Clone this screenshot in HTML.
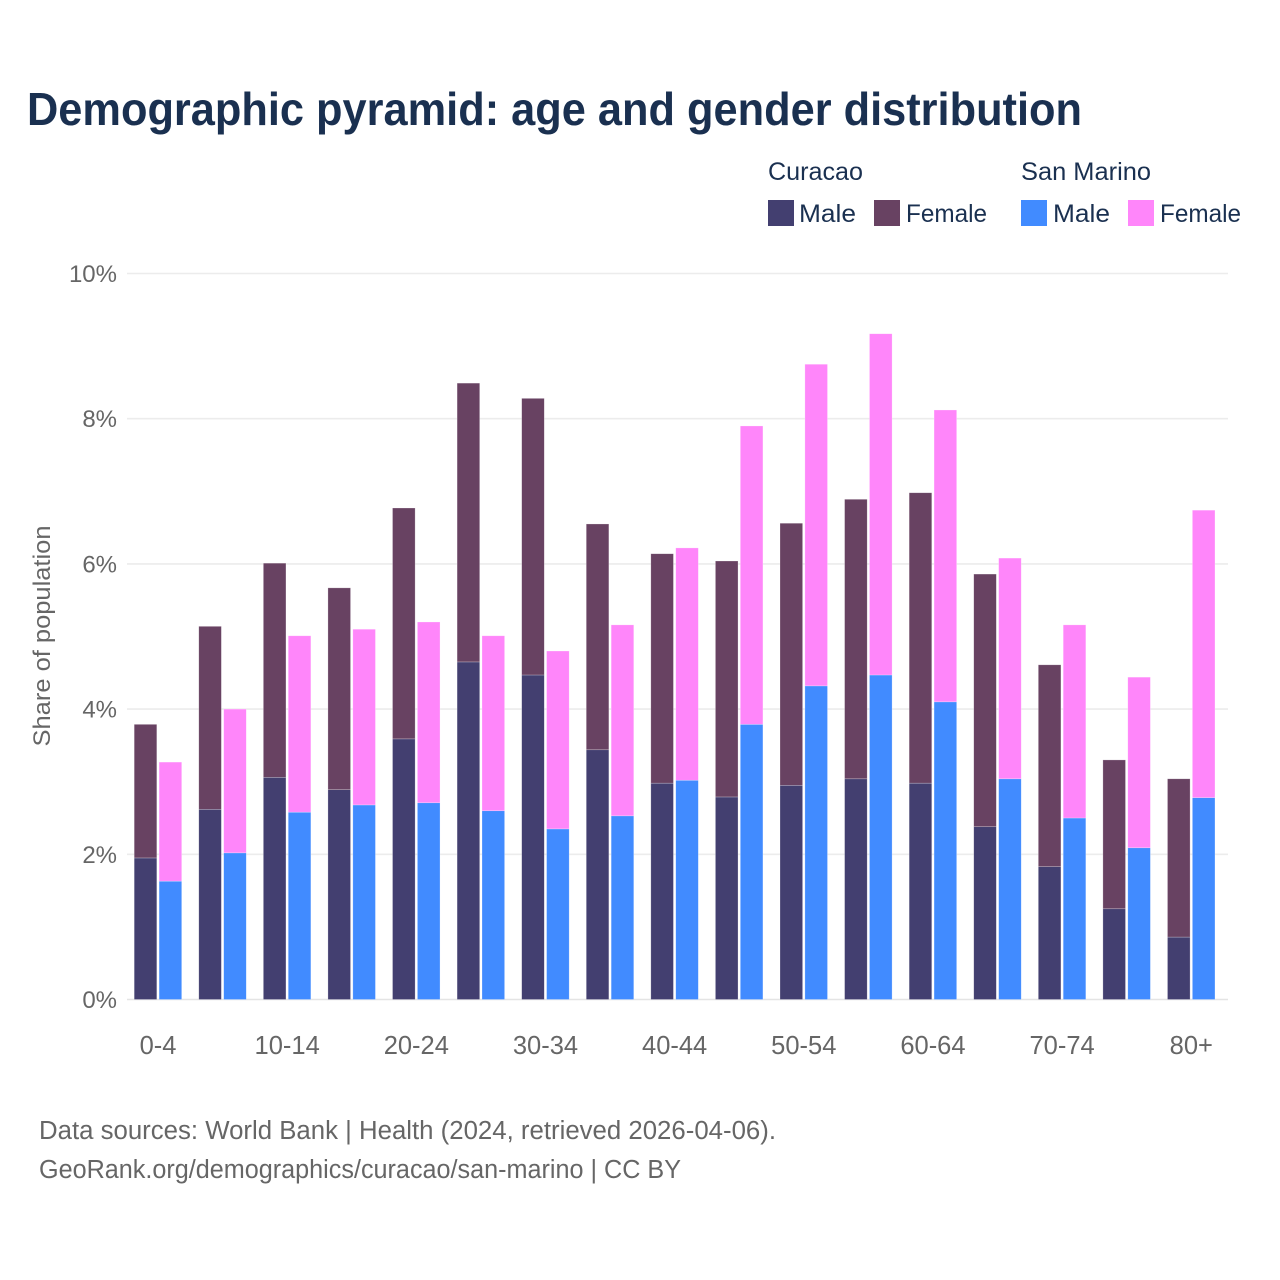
<!DOCTYPE html>
<html lang="en">
<head>
<meta charset="utf-8">
<title>Demographic pyramid</title>
<style>
html,body{margin:0;padding:0;background:#fff;width:1280px;height:1280px;overflow:hidden}
svg{display:block;font-family:"Liberation Sans",sans-serif}
</style>
</head>
<body>
<svg id="chart" width="1280" height="1280" viewBox="0 0 1280 1280" xmlns="http://www.w3.org/2000/svg">
  <rect width="1280" height="1280" fill="#fff"/>
  <text x="27" y="125" font-size="46" font-weight="700" fill="#1a3050" textLength="1055" lengthAdjust="spacingAndGlyphs">Demographic pyramid: age and gender distribution</text>

  <g font-size="25" fill="#1a3050">
    <text x="768" y="180" textLength="95" lengthAdjust="spacingAndGlyphs">Curacao</text>
    <text x="1021" y="180" textLength="130" lengthAdjust="spacingAndGlyphs">San Marino</text>
    <rect x="768" y="200" width="26" height="26" fill="#433f70"/>
    <text x="799" y="222" textLength="57" lengthAdjust="spacingAndGlyphs">Male</text>
    <rect x="874" y="200" width="26" height="26" fill="#684262"/>
    <text x="906" y="222" textLength="81" lengthAdjust="spacingAndGlyphs">Female</text>
    <rect x="1021" y="200" width="26" height="26" fill="#418bff"/>
    <text x="1053" y="222" textLength="57" lengthAdjust="spacingAndGlyphs">Male</text>
    <rect x="1128" y="200" width="26" height="26" fill="#ff86fa"/>
    <text x="1160" y="222" textLength="81" lengthAdjust="spacingAndGlyphs">Female</text>
  </g>

  <g id="grid"></g>
  <g id="bars"></g>
  <g id="xlabels"></g>

  <text transform="translate(50 636) rotate(-90)" text-anchor="middle" font-size="24" fill="#666" textLength="221" lengthAdjust="spacingAndGlyphs">Share of population</text>

  <text x="39" y="1139" font-size="25.5" fill="#666" textLength="737" lengthAdjust="spacingAndGlyphs">Data sources: World Bank | Health (2024, retrieved 2026-04-06).</text>
  <text x="39" y="1178" font-size="25.5" fill="#666" textLength="642" lengthAdjust="spacingAndGlyphs">GeoRank.org/demographics/curacao/san-marino | CC BY</text>
</svg>
<script>
const ageGroups = ["0-4","5-9","10-14","15-19","20-24","25-29","30-34","35-39","40-44","45-49","50-54","55-59","60-64","65-69","70-74","75-79","80+"];
const shownAgeLabels = ["0-4","10-14","20-24","30-34","40-44","50-54","60-64","70-74","80+"];
const curacaoMale = [1.95,2.62,3.06,2.89,3.59,4.65,4.47,3.44,2.98,2.79,2.95,3.04,2.98,2.38,1.83,1.25,0.86];
const curacaoFemale = [1.84,2.52,2.95,2.78,3.18,3.84,3.81,3.11,3.16,3.25,3.61,3.85,4.00,3.48,2.78,2.05,2.18];
const sanMarinoMale = [1.63,2.02,2.58,2.68,2.71,2.60,2.35,2.53,3.02,3.79,4.32,4.47,4.10,3.04,2.50,2.09,2.78];
const sanMarinoFemale = [1.64,1.98,2.43,2.42,2.49,2.41,2.45,2.63,3.20,4.11,4.43,4.70,4.02,3.04,2.66,2.35,3.96];
const yTicks = [0,2,4,6,8,10];

const NS = "http://www.w3.org/2000/svg";
const yScale = v => 999.5 - v * 72.6;
const xCenter = i => 158 + i * 64.58;
const BAR_W = 22.6;

function make(tag, attrs, parent) {
  const el = document.createElementNS(NS, tag);
  for (const k in attrs) el.setAttribute(k, attrs[k]);
  parent.appendChild(el);
  return el;
}

const grid = document.getElementById("grid");
yTicks.forEach(t => {
  const y = yScale(t);
  const line = make("line", {x1:127, x2:1228, y1:y, y2:y, stroke: t === 0 ? "#e4e4e4" : "#ececec", "stroke-width":1.6}, grid);
  
  
  const label = make("text", {x:117, y:y + 8.5, "text-anchor":"end", "font-size":24, fill:"#666"}, grid);
  
  
  label.textContent = t + "%";
});

const bars = document.getElementById("bars");
function bar(x, v0, v1, fill) {
  const top = yScale(v1), bottom = yScale(v0);
  const r = make("rect", {x:x, y:top, width:BAR_W, height:bottom - top, fill:fill, stroke:"#fff", "stroke-opacity":0.4, "stroke-width":0.6}, bars);
  return r;
}
ageGroups.forEach((g, i) => {
  const cx = xCenter(i);
  const a = bar(cx - 23.8, 0, curacaoMale[i], "#433f70");
  
  
  const b = bar(cx - 23.8, curacaoMale[i], curacaoMale[i] + curacaoFemale[i], "#684262");
  
  
  const c = bar(cx + 1.1, 0, sanMarinoMale[i], "#418bff");
  
  
  const d = bar(cx + 1.1, sanMarinoMale[i], sanMarinoMale[i] + sanMarinoFemale[i], "#ff86fa");
  
  
});

const xlabels = document.getElementById("xlabels");
ageGroups.forEach((g, i) => {
  if (!shownAgeLabels.includes(g)) return;
  const t = make("text", {x:xCenter(i), y:1054, "text-anchor":"middle", "font-size":25.5, fill:"#666"}, xlabels);
  
  
  t.textContent = g;
});
</script>
</body>
</html>
